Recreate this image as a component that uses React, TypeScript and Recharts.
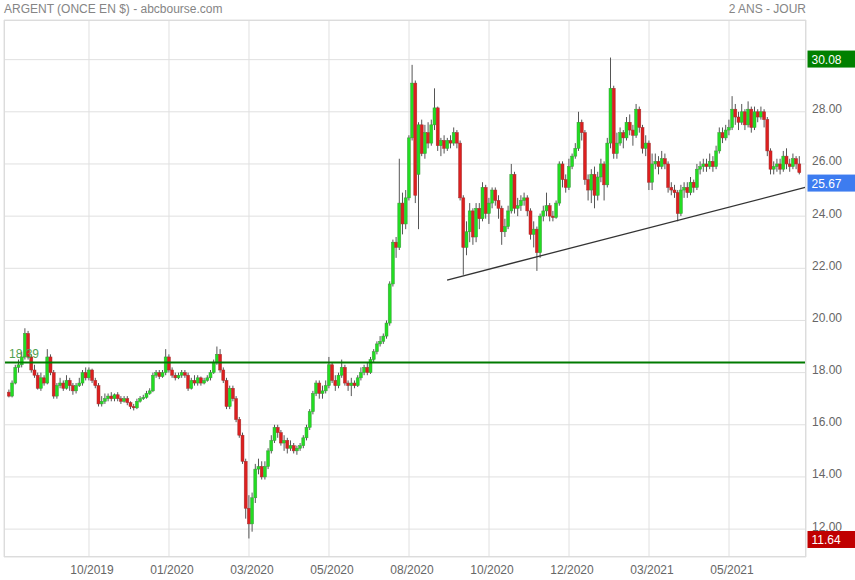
import { ComposedChart, Bar, XAxis, YAxis, CartesianGrid, ReferenceLine } from 'recharts';

// daily-ish candles (each candle ~2 sessions)
const OPEN = [
  17.25, 17.1, 17.6, 18.2, 18.3, 18.6, 19.5, 18.6, 18.1, 17.9,
  17.4, 17.8, 17.6, 18.6, 18.0, 17.1, 17.5, 17.6, 17.4, 17.7,
  17.5, 17.3, 17.5, 17.6, 18.0, 17.8, 18.1, 17.7, 17.5, 16.8,
  16.9, 17.0, 17.1, 17.0, 17.15, 17.0, 16.9, 17.0, 16.85, 16.7,
  16.65, 16.9, 17.0, 17.05, 17.2, 17.3, 17.9, 18.0, 17.85, 18.0,
  18.6, 18.1, 17.9, 17.8, 17.9, 18.0, 17.9, 17.4, 17.7, 17.6,
  17.8, 17.6, 17.7, 17.8, 18.0, 18.4, 18.7, 18.1, 17.7, 16.7,
  17.4, 17.0, 16.2, 15.6, 14.6, 12.8, 12.2, 13.2, 14.3, 14.4,
  14.0, 14.4, 15.0, 15.4, 15.9, 15.7, 15.3, 15.4, 15.1, 15.2,
  15.0, 15.1, 15.2, 15.5, 15.9, 16.5, 17.2, 17.6, 17.2, 17.3,
  17.5, 18.3, 17.7, 17.5, 17.9, 18.2, 17.6, 17.5, 17.6, 17.5,
  17.8, 18.0, 18.2, 18.0, 18.5, 18.8, 19.1, 19.2, 19.4, 19.9,
  21.4, 23.0, 22.8, 24.5, 23.7, 24.7, 27.0, 29.1, 25.6, 27.5,
  26.4, 27.2, 26.8, 27.5, 28.15, 26.7, 26.9, 26.6, 26.9, 26.8,
  27.2, 26.8, 24.7, 22.8, 23.4, 24.2, 23.2, 24.3, 23.9, 25.1,
  24.1, 24.5, 25.0, 24.6, 24.3, 23.4, 23.6, 24.2, 25.6, 24.3,
  24.4, 24.6, 24.7, 24.2, 23.3, 23.5, 22.6, 24.0, 24.2, 24.4,
  24.0, 23.95, 24.5, 26.0, 25.4, 25.1, 25.9, 26.3, 26.6, 27.6,
  27.2, 25.4, 25.0, 25.6, 24.8, 25.5, 26.0, 25.2, 26.8, 28.9,
  26.4, 26.8, 27.2, 27.0, 27.6, 27.3, 27.1, 28.1, 27.4, 26.6,
  26.8, 25.3, 26.0, 26.1, 25.9, 26.2, 26.0, 25.1, 25.0, 24.9,
  24.1, 25.0, 25.1, 24.9, 25.3, 25.1, 25.8, 25.9, 26.0, 25.9,
  26.1, 25.9, 26.5, 27.2, 27.0, 27.3, 27.4, 28.1, 27.8, 27.6,
  28.0, 27.5, 28.1, 27.4, 28.0, 27.8, 28.0, 27.7, 26.5, 25.8,
  25.9, 26.0, 25.8, 26.3, 26.0, 25.9, 26.2, 26.0,
];

const HIGH = [
  17.35, 17.7, 18.3, 18.5, 18.8, 19.7, 19.6, 18.7, 18.3, 18.0,
  18.0, 17.9, 18.9, 18.7, 18.1, 17.6, 17.8, 17.7, 17.9, 17.8,
  17.6, 17.6, 17.8, 18.1, 18.2, 18.2, 18.15, 17.8, 17.6, 17.1,
  17.2, 17.2, 17.25, 17.2, 17.25, 17.1, 17.1, 17.1, 16.9, 16.8,
  17.0, 17.1, 17.15, 17.3, 17.4, 18.0, 18.1, 18.1, 18.1, 18.9,
  18.7, 18.2, 18.0, 18.0, 18.1, 18.1, 18.0, 17.8, 17.9, 17.9,
  17.85, 17.8, 17.9, 18.1, 18.5, 19.0, 18.9, 18.2, 17.8, 17.5,
  17.5, 17.1, 16.3, 15.7, 14.7, 13.3, 13.4, 14.5, 14.7, 14.6,
  14.6, 15.1, 15.6, 16.0, 16.0, 15.8, 15.6, 15.5, 15.4, 15.3,
  15.2, 15.3, 15.6, 16.0, 16.6, 17.3, 17.7, 17.7, 17.5, 17.7,
  18.6, 18.4, 17.9, 18.0, 18.5, 18.3, 17.7, 17.8, 17.7, 17.9,
  18.2, 18.3, 18.4, 18.6, 18.9, 19.2, 19.4, 19.5, 20.0, 21.5,
  23.1, 23.2, 26.2, 24.9, 25.0, 27.1, 29.8, 29.2, 27.6, 27.7,
  27.5, 27.6, 27.7, 28.9, 28.2, 27.0, 27.1, 27.0, 27.1, 27.4,
  27.3, 26.9, 24.8, 23.8, 24.5, 24.3, 24.5, 24.5, 25.3, 25.2,
  24.7, 25.1, 25.1, 24.8, 24.4, 23.9, 24.4, 26.0, 25.7, 24.7,
  24.8, 24.9, 24.8, 24.3, 23.8, 23.6, 24.1, 24.4, 24.9, 24.5,
  24.2, 24.6, 26.1, 26.1, 25.6, 26.2, 26.4, 26.8, 28.0, 27.7,
  27.3, 25.6, 25.8, 25.9, 25.7, 26.2, 26.1, 27.0, 30.08, 29.0,
  27.2, 27.4, 27.3, 27.8, 27.9, 27.5, 28.3, 28.2, 27.5, 27.1,
  26.9, 26.4, 26.4, 26.3, 26.5, 26.4, 26.1, 25.3, 25.2, 25.0,
  25.2, 25.3, 25.3, 25.5, 25.4, 26.0, 26.1, 26.2, 26.2, 26.4,
  26.3, 26.7, 27.4, 27.4, 27.5, 27.7, 28.6, 28.3, 28.0, 28.3,
  28.1, 28.4, 28.2, 28.2, 28.1, 28.2, 28.1, 27.8, 26.6, 26.1,
  26.2, 26.2, 26.5, 26.6, 26.2, 26.4, 26.3, 26.3,
];

const LOW = [
  17.05, 17.05, 17.55, 18.0, 18.2, 18.5, 18.5, 18.0, 17.8, 17.35,
  17.3, 17.5, 17.55, 17.9, 17.0, 17.0, 17.4, 17.3, 17.35, 17.3,
  17.15, 17.2, 17.45, 17.5, 17.7, 17.7, 17.6, 17.4, 16.7, 16.7,
  16.8, 16.9, 16.9, 16.9, 16.9, 16.8, 16.85, 16.75, 16.6, 16.55,
  16.6, 16.85, 16.95, 17.0, 17.15, 17.25, 17.8, 17.75, 17.8, 17.9,
  18.0, 17.8, 17.7, 17.75, 17.8, 17.8, 17.3, 17.35, 17.5, 17.5,
  17.5, 17.55, 17.65, 17.7, 17.95, 18.3, 18.0, 17.6, 16.6, 16.6,
  16.9, 16.1, 15.5, 14.5, 12.4, 11.64, 11.9, 13.0, 14.1, 13.9,
  13.9, 14.3, 14.9, 15.3, 15.5, 15.2, 15.0, 14.9, 15.0, 14.9,
  14.85, 15.0, 15.1, 15.4, 15.8, 16.4, 17.1, 17.0, 17.0, 17.2,
  17.4, 17.6, 17.3, 17.4, 17.8, 17.5, 17.3, 17.1, 17.4, 17.45,
  17.7, 17.9, 17.9, 17.95, 18.4, 18.7, 19.0, 19.1, 19.3, 19.8,
  21.3, 22.4, 22.7, 23.3, 23.5, 24.6, 26.9, 24.5, 23.5, 26.3,
  26.2, 26.6, 26.7, 27.3, 26.5, 26.3, 26.4, 26.5, 26.6, 26.7,
  26.6, 24.6, 21.75, 22.5, 23.0, 22.9, 23.0, 23.5, 23.8, 23.9,
  23.7, 24.3, 24.4, 23.9, 22.9, 23.2, 23.5, 24.1, 24.1, 24.0,
  24.2, 24.4, 24.0, 23.1, 22.8, 21.9, 22.4, 23.8, 24.0, 23.8,
  23.8, 23.9, 24.4, 25.1, 24.9, 25.0, 25.8, 26.2, 26.5, 26.9,
  25.2, 24.6, 24.5, 24.3, 24.6, 25.3, 24.6, 25.1, 26.6, 26.2,
  26.2, 26.7, 26.6, 26.9, 27.1, 26.7, 27.0, 27.2, 26.4, 26.3,
  25.0, 25.0, 25.8, 25.6, 25.8, 25.8, 24.9, 24.8, 24.7, 23.8,
  24.0, 24.7, 24.7, 24.8, 24.9, 25.0, 25.6, 25.7, 25.7, 25.8,
  25.7, 25.8, 26.4, 26.8, 26.9, 27.1, 27.3, 27.5, 27.3, 27.5,
  27.3, 27.4, 27.2, 27.3, 27.6, 27.7, 27.4, 26.3, 25.6, 25.6,
  25.7, 25.6, 25.7, 25.8, 25.7, 25.8, 25.8, 25.6,
];

const CLOSE = [
  17.1, 17.6, 18.2, 18.3, 18.6, 19.5, 18.6, 18.1, 17.9, 17.4,
  17.8, 17.6, 18.6, 18.0, 17.1, 17.5, 17.6, 17.4, 17.7, 17.5,
  17.3, 17.5, 17.6, 18.0, 17.8, 18.1, 17.7, 17.5, 16.8, 16.9,
  17.0, 17.1, 17.0, 17.15, 17.0, 16.9, 17.0, 16.85, 16.7, 16.65,
  16.9, 17.0, 17.05, 17.2, 17.3, 17.9, 18.0, 17.85, 18.0, 18.6,
  18.1, 17.9, 17.8, 17.9, 18.0, 17.9, 17.4, 17.7, 17.6, 17.8,
  17.6, 17.7, 17.8, 18.0, 18.4, 18.7, 18.1, 17.7, 16.7, 17.4,
  17.0, 16.2, 15.6, 14.6, 12.8, 12.2, 13.2, 14.3, 14.4, 14.0,
  14.4, 15.0, 15.4, 15.9, 15.7, 15.3, 15.4, 15.1, 15.2, 15.0,
  15.1, 15.2, 15.5, 15.9, 16.5, 17.2, 17.6, 17.2, 17.3, 17.5,
  18.3, 17.7, 17.5, 17.9, 18.2, 17.6, 17.5, 17.6, 17.5, 17.8,
  18.0, 18.2, 18.0, 18.5, 18.8, 19.1, 19.2, 19.4, 19.9, 21.4,
  23.0, 22.8, 24.5, 23.7, 24.7, 27.0, 29.1, 24.8, 27.5, 26.4,
  27.2, 26.8, 27.5, 28.15, 26.7, 26.9, 26.6, 26.9, 26.8, 27.2,
  26.8, 24.7, 22.8, 23.4, 24.2, 23.2, 24.3, 23.9, 25.1, 24.1,
  24.5, 25.0, 24.6, 24.3, 23.4, 23.6, 24.2, 25.6, 24.3, 24.4,
  24.6, 24.7, 24.2, 23.3, 23.5, 22.6, 24.0, 24.2, 24.4, 24.0,
  23.95, 24.5, 26.0, 25.4, 25.1, 25.9, 26.3, 26.6, 27.6, 27.2,
  25.4, 25.0, 25.6, 24.8, 25.5, 26.0, 25.2, 26.8, 28.9, 26.4,
  26.8, 27.2, 27.0, 27.6, 27.3, 27.1, 28.1, 27.4, 26.6, 26.8,
  25.3, 26.0, 26.1, 25.9, 26.2, 26.0, 25.1, 25.0, 24.9, 24.1,
  25.0, 25.1, 24.9, 25.3, 25.1, 25.8, 25.9, 26.0, 25.9, 26.1,
  25.9, 26.5, 27.2, 27.0, 27.3, 27.4, 28.1, 27.8, 27.6, 28.0,
  27.5, 28.1, 27.4, 28.0, 27.8, 28.0, 27.7, 26.5, 25.8, 25.9,
  26.0, 25.8, 26.3, 26.0, 25.9, 26.2, 26.0, 25.67,
];

const X_TICKS = [25, 50, 75, 100, 125, 150, 175, 200, 225];
const X_LABELS = ['10/2019', '01/2020', '03/2020', '05/2020', '08/2020', '10/2020', '12/2020', '03/2021', '05/2021'];
const Y_TICKS = [12, 14, 16, 18, 20, 22, 24, 26, 28, 30];

const SUPPORT = 18.39;
const TREND_START = { x: 136.9, y: 21.55 };
const TREND_END = { x: 248.8, y: 25.1 };
const MAX_PRICE = 30.08;
const LAST_PRICE = 25.67;
const MIN_PRICE = 11.64;

const data = CLOSE.map((c, i) => ({ i, open: OPEN[i], high: HIGH[i], low: LOW[i], close: c }));

const FONT = '"Liberation Sans", Arial, sans-serif';

function Candle(props: any) {
    const { x, y, width, height, payload } = props;
    const { open, close, high, low } = payload;
    const top = Math.min(y, y + height);
    const h = Math.abs(height);
    const k = high > low ? h / (high - low) : 0;
    const py = (v: number) => top + (high - v) * k;
    const cx = x + width / 2;
    const up = close >= open;
    const bTop = py(Math.max(open, close));
    const bBot = py(Math.min(open, close));
    return (
        <g>
            <line x1={cx} x2={cx} y1={top} y2={top + h} stroke="#555" strokeWidth={1} />
            <rect x={cx - 1.5} y={bTop} width={3} height={Math.max(1, bBot - bTop)}
                fill={up ? '#22dd22' : '#dd1f1f'} stroke={up ? '#3c9a3c' : '#a03030'} strokeWidth={0.5} />
        </g>
    );
}

function PriceTag(props: any) {
    const { viewBox, text, bg, dy } = props;
    const x = viewBox.x + viewBox.width + 1.5;
    const cy = viewBox.y + dy;
    return (
        <g>
            <rect x={x} y={cy - 8.5} width={48} height={17} fill={bg} />
            <text x={x + 4} y={cy + 4.5} fill="#fff" fontSize={12} fontFamily={FONT}>{text}</text>
        </g>
    );
}

function LevelLabel(props: any) {
    const { viewBox } = props;
    return <text x={viewBox.x + 5} y={viewBox.y - 4} fill="#4f9f4f" fontSize={12} fontFamily={FONT}>{SUPPORT.toFixed(2)}</text>;
}

export default function App() {
    return (
        <div style={{ position: 'absolute', left: 0, top: 0, width: 855, height: 580, background: '#fff', fontFamily: FONT }}>
            <div style={{ position: 'absolute', left: 4, top: 2, fontSize: 12, color: '#858585' }}>ARGENT (ONCE EN $) - abcbourse.com</div>
            <div style={{ position: 'absolute', right: 49, top: 2, fontSize: 12, color: '#858585' }}>2 ANS - JOUR</div>
            <ComposedChart width={855} height={580} data={data} margin={{ top: 20, right: 0, bottom: 0, left: 4 }}>
                <CartesianGrid stroke="#e0e0e0" />
                <XAxis dataKey="i" type="number" domain={[-1.56, 249.06]} allowDataOverflow ticks={X_TICKS}
                    height={23} axisLine={false} tickLine={false} interval={0}
                    tick={(p: any) => (
                        <text x={p.x + 3} y={574} textAnchor="middle" fill="#666" fontSize={12} fontFamily={FONT}>
                            {X_LABELS[X_TICKS.indexOf(p.payload.value)]}
                        </text>
                    )} />
                <YAxis orientation="right" width={49} domain={[10.93, 31.52]} allowDataOverflow ticks={Y_TICKS}
                    axisLine={false} tickLine={false} interval={0}
                    tick={(p: any) => p.payload.value === 30 ? <g /> : (
                        <text x={812} y={p.y + 1.5} fill="#666" fontSize={12} fontFamily={FONT}>{p.payload.value.toFixed(2)}</text>
                    )} />
                <Bar dataKey={(d: any) => [d.low, d.high]} barSize={3} shape={(p: any) => <Candle {...p} />} isAnimationActive={false} />
                <ReferenceLine y={SUPPORT} stroke="#007a00" strokeWidth={2} label={<LevelLabel />} />
                <ReferenceLine segment={[TREND_START, TREND_END]} stroke="#333" strokeWidth={1.3} ifOverflow="visible" />
                <ReferenceLine y={MAX_PRICE} stroke="none" label={<PriceTag text={MAX_PRICE.toFixed(2)} bg="#008000" dy={1.5} />} />
                <ReferenceLine y={LAST_PRICE} stroke="none" label={<PriceTag text={LAST_PRICE.toFixed(2)} bg="#3d7cf0" dy={10.5} />} />
                <ReferenceLine y={MIN_PRICE} stroke="none" label={<PriceTag text={MIN_PRICE.toFixed(2)} bg="#c00000" dy={1} />} />
            </ComposedChart>
            <div style={{ position: 'absolute', left: 4, top: 20, width: 802, height: 537, border: '1px solid #dcdcdc', boxSizing: 'border-box', pointerEvents: 'none' }} />
        </div>
    );
}
